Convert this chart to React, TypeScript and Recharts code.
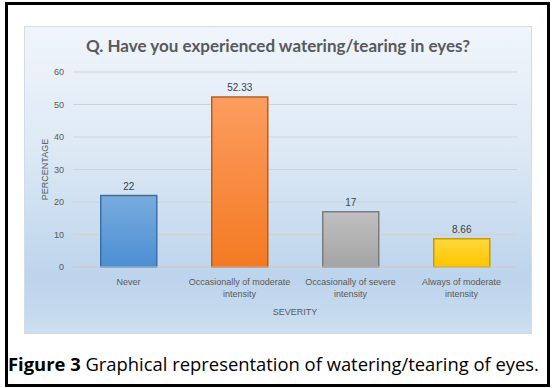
import { BarChart, Bar, XAxis, YAxis, CartesianGrid, LabelList, Label, Cell } from 'recharts';

const categories = [
  'Never',
  'Occasionally of moderate intensity',
  'Occasionally of severe intensity',
  'Always of moderate intensity',
];
const percentages = [22, 52.33, 17, 8.66];
const yTicks = [0, 10, 20, 30, 40, 50, 60];

const barColors = [
  { id: 'blue', top: '#78acdf', bottom: '#4b8fd3', stroke: '#3c6fa6' },
  { id: 'orange', top: '#fc9d60', bottom: '#f47a22', stroke: '#c05c14' },
  { id: 'gray', top: '#c0c0c0', bottom: '#a4a4a4', stroke: '#7c7c7c' },
  { id: 'yellow', top: '#ffd93a', bottom: '#ffc400', stroke: '#c89c00' },
];

const data = categories.map((name, i) => ({ name, value: percentages[i] }));

// break a label into lines of at most maxChars characters
function wrapWords(text: string, maxChars: number) {
  const lines: string[] = [];
  let cur = '';
  text.split(' ').forEach((w) => {
    const next = cur ? cur + ' ' + w : w;
    if (next.length > maxChars && cur) {
      lines.push(cur);
      cur = w;
    } else {
      cur = next;
    }
  });
  if (cur) lines.push(cur);
  return lines;
}

const CategoryTick = ({ x, y, payload }: any) => {
  const lines = wrapWords(payload.value, 24);
  return (
    <text
      x={x}
      y={y + 16}
      textAnchor="middle"
      fontSize={9}
      fill="#595959"
      fontFamily="Liberation Sans, Arial, sans-serif"
    >
      {lines.map((l, i) => (
        <tspan key={i} x={x} dy={i === 0 ? 0 : 12}>
          {l}
        </tspan>
      ))}
    </text>
  );
};

export default function App() {
  return (
    <div style={{ position: 'absolute', left: 0, top: 0, width: 555, height: 388, background: '#fff' }}>
      <div
        style={{
          position: 'absolute',
          left: 5,
          top: 2,
          width: 545,
          height: 385,
          border: '3px solid #000',
          boxSizing: 'border-box',
        }}
      />
      <div
        style={{
          position: 'absolute',
          left: 24,
          top: 26,
          width: 508,
          height: 308,
          boxSizing: 'border-box',
          border: '1px solid #d3dce6',
          background: 'linear-gradient(to bottom, #f0f5fb 0%, #dde9f5 40%, #bcd4ec 82%, #c4d9ee 92%, #cddff0 100%)',
        }}
      >
        <div
          style={{
            position: 'absolute',
            left: 0,
            top: 8,
            width: '100%',
            textAlign: 'center',
            fontFamily: 'Lato, sans-serif',
            fontWeight: 'bold',
            fontSize: 17,
            color: '#595959',
          }}
        >
          Q. Have you experienced watering/tearing in eyes?
        </div>
        <div style={{ position: 'absolute', left: -1, top: -1 }}>
          <BarChart
            width={508}
            height={308}
            data={data}
            margin={{ top: 46, right: 15, left: 19, bottom: 17 }}
            barCategoryGap="25%"
          >
            <defs>
              {barColors.map((c) => (
                <linearGradient key={c.id} id={`grad-${c.id}`} x1="0" y1="0" x2="0" y2="1">
                  <stop offset="0%" stopColor={c.top} />
                  <stop offset="100%" stopColor={c.bottom} />
                </linearGradient>
              ))}
            </defs>
            <CartesianGrid vertical={false} stroke="#cfd3d8" />
            <XAxis
              dataKey="name"
              height={50}
              interval={0}
              tickSize={0}
              axisLine={{ stroke: '#c6cbd0' }}
              tick={<CategoryTick />}
            >
              <Label
                value="SEVERITY"
                position="insideBottom"
                offset={2}
                fontSize={9}
                fill="#595959"
                fontFamily="Liberation Sans, Arial, sans-serif"
              />
            </XAxis>
            <YAxis
              width={30}
              domain={[0, 60]}
              ticks={yTicks}
              axisLine={false}
              tickSize={0}
              tickMargin={9}
              tick={{ fontSize: 9, fill: '#595959', fontFamily: 'Liberation Sans, Arial, sans-serif' }}
            >
              <Label
                value="PERCENTAGE"
                angle={-90}
                position="insideLeft"
                offset={2}
                fontSize={9}
                fill="#595959"
                fontFamily="Liberation Sans, Arial, sans-serif"
                style={{ textAnchor: 'middle' }}
              />
            </YAxis>
            <Bar dataKey="value" isAnimationActive={false} strokeWidth={1.5}>
              {data.map((d, i) => (
                <Cell key={d.name} fill={`url(#grad-${barColors[i].id})`} stroke={barColors[i].stroke} />
              ))}
              <LabelList
                dataKey="value"
                position="top"
                offset={6}
                fontSize={10}
                fill="#404040"
                fontFamily="Liberation Sans, Arial, sans-serif"
              />
            </Bar>
          </BarChart>
        </div>
      </div>
      <div
        style={{
          position: 'absolute',
          left: 8,
          top: 353,
          whiteSpace: 'nowrap',
          fontFamily: 'Open Sans, sans-serif',
          fontSize: 18.4,
          lineHeight: '22px',
          color: '#000',
        }}
      >
        <b>Figure 3</b> Graphical representation of watering/tearing of eyes.
      </div>
    </div>
  );
}
